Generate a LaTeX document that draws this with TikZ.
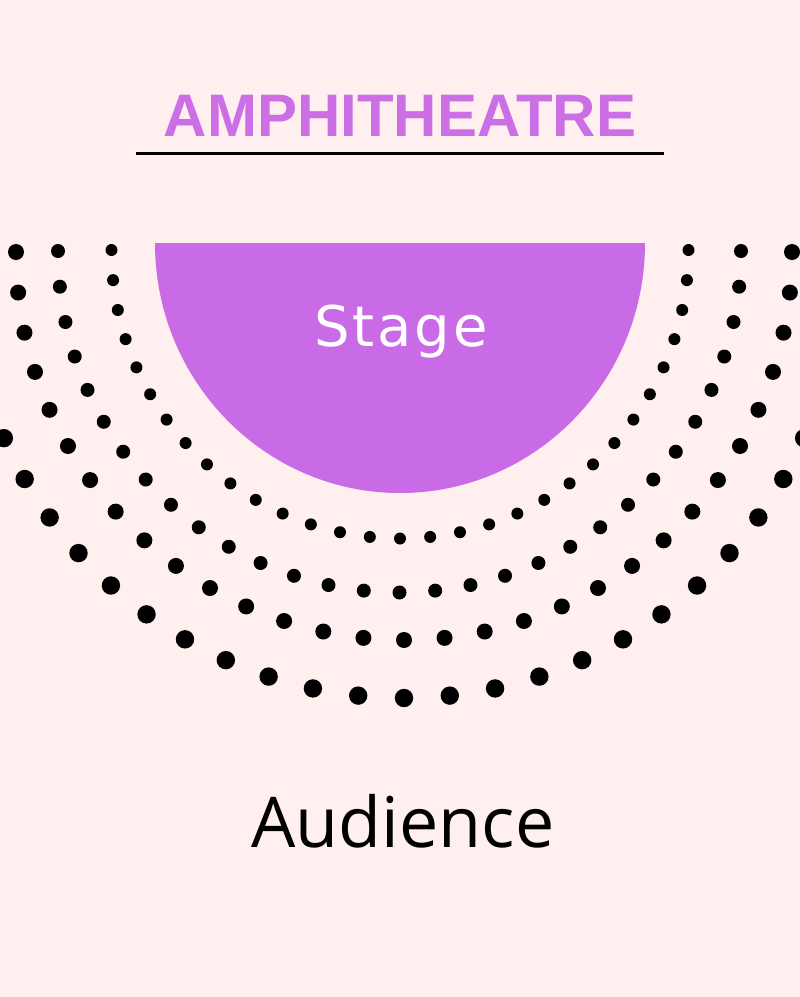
\documentclass[tikz,border=0pt]{standalone}
\usepackage{fontspec}
\setmainfont{Open Sans}
\newfontfamily\titlefont{Liberation Sans}
\newfontfamily\stagefont[LetterSpace=5]{DejaVu Sans}
\definecolor{bgpink}{RGB}{255,239,239}
\definecolor{stagepurple}{RGB}{201,106,230}
\definecolor{titlepurple}{RGB}{204,110,230}
\begin{document}
\begin{tikzpicture}[x=1pt,y=-1pt,
  seat/.style={fill=black},
  titletext/.style={anchor=base,text=titlepurple,font=\titlefont\bfseries\fontsize{60}{70}\selectfont},
  stagetext/.style={anchor=base,text=white,font=\stagefont\fontsize{56}{62}\selectfont},
  audtext/.style={anchor=base,text=black,font=\fontsize{70}{80}\selectfont}]
\fill[bgpink] (0,0) rectangle (800,997);
\useasboundingbox (0,0) rectangle (800,997);
% stage
\fill[stagepurple] (155,243) arc[start angle=180,end angle=0,x radius=245,y radius=250] -- cycle;
% seats
\begin{scope}
\clip (0,0) rectangle (800,997);
\foreach \cx/\cy/\r/\d in {400/250/288.5/6, 399.5/251/341.5/7, 404/252/388/8, 404/260/438/9.2}{
  \foreach \k in {-15,...,15}{
    \fill[seat] ({\cx+\r*cos(90+6*\k)},{\cy+\r*sin(90+6*\k)}) circle[radius=\d pt];
  }
}
\end{scope}
% title and rule
\node[titletext] (title) at (400,136) {AMPHITHEATRE};
\coordinate (ruleL) at (136,153);
\coordinate (ruleR) at (664,153);
\draw[line width=3pt] (ruleL) -- (ruleR);
% labels
\node[stagetext] (stage) at (401,346) {Stage};
\node[audtext] (audience) at (403,847) {Audience};
\end{tikzpicture}
\end{document}
